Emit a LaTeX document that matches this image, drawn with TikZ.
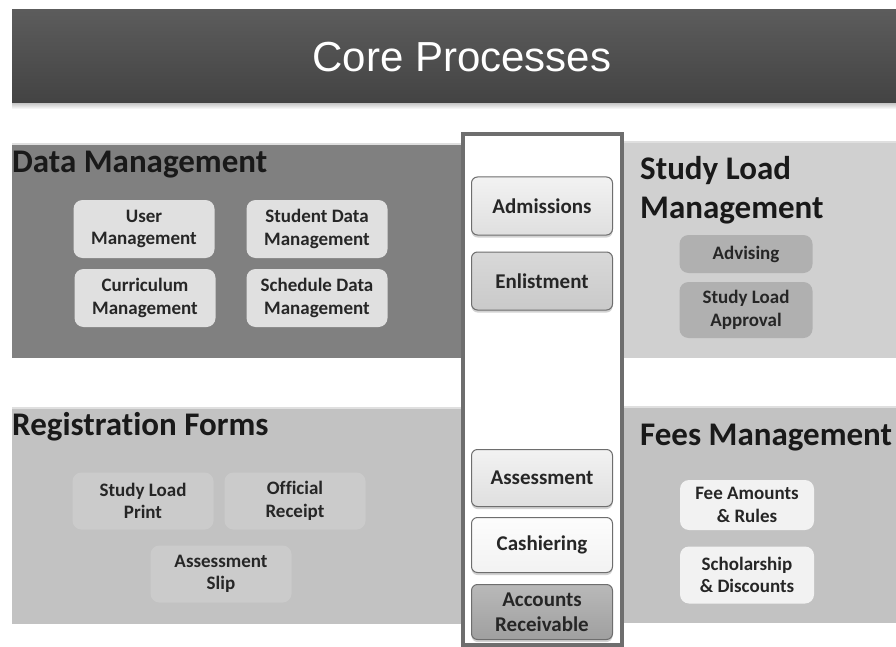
\documentclass[tikz,border=0pt]{standalone}
\usepackage{fontspec}
\setmainfont{Carlito}[Ligatures=NoCommon]
\newfontfamily\titlefont{Liberation Sans}
\usepackage{xcolor}
\usepackage{tikz}
\usetikzlibrary{shadows}

\definecolor{barTop}{HTML}{5C5C5C}
\definecolor{barBot}{HTML}{434343}
\definecolor{dmGray}{HTML}{808080}
\definecolor{slmGray}{HTML}{D0D0D0}
\definecolor{rfGray}{HTML}{C2C2C2}
\definecolor{dmBox}{HTML}{E0E0E0}
\definecolor{slmBox}{HTML}{B0B0B0}
\definecolor{rfBox}{HTML}{CBCBCB}
\definecolor{fmBox}{HTML}{F2F2F2}
\definecolor{colBorder}{HTML}{6E6E6E}

\begin{document}
\begin{tikzpicture}[x=1pt,y=-1pt,
  heading/.style={anchor=base west,inner sep=0pt,align=left,text=black!90,font=\fontsize{33}{38}\selectfont\bfseries},
  subbox/.style={rounded corners=9pt,minimum width=141pt,minimum height=58pt,inner sep=0pt,align=center,text=black!85,font=\fontsize{19}{22.5}\selectfont\bfseries},
  btn/.style={draw=colBorder,line width=1pt,rounded corners=6pt,minimum width=141pt,minimum height=57pt,inner sep=0pt,align=center,text=black!85,font=\fontsize{21}{25}\selectfont\bfseries,drop shadow={opacity=0.35,shadow xshift=0pt,shadow yshift=-2.5pt}}]

\useasboundingbox (0,0) rectangle (896,647);
\fill[white] (0,0) rectangle (896,647);

% title bar
\shade[top color=gray!45,bottom color=white] (12,103) rectangle (896,109);
\shade[top color=barTop,bottom color=barBot] (12,10) rectangle (896,103);
\node[font=\titlefont\fontsize{42}{46}\selectfont,text=white] (title) at (462,57) {Core Processes};

% panels
\fill[dmGray] (12,145) rectangle (463,358);
\fill[slmGray] (622,143) rectangle (896,358);
\fill[rfGray] (12,409) rectangle (463,624);
\fill[rfGray] (622,408) rectangle (896,623);
\draw[gray!25,line width=1.5pt] (12,144) -- (463,144) (622,142) -- (896,142)
  (12,408) -- (463,408) (622,407) -- (896,407);

% core process column
\draw[colBorder,line width=4pt,fill=white] (463,134) rectangle (622,645);

\node[heading] (dmhead) at (12,172) {Data Management};
\node[heading] (slmhead) at (640,218) {Study Load\\Management};
\node[heading] (rfhead) at (12,435) {Registration Forms};
\node[heading] (fmhead) at (640,445) {Fees Management};

% data management
\node[subbox,fill=dmBox] (usermgmt) at (144,229) {User\\Management};
\node[subbox,fill=dmBox] (studmgmt) at (317,229) {Student Data\\Management};
\node[subbox,fill=dmBox] (currmgmt) at (145,298) {Curriculum\\Management};
\node[subbox,fill=dmBox] (schedmgmt) at (317,298) {Schedule Data\\Management};

% study load management
\node[subbox,fill=slmBox,minimum width=133pt,minimum height=38pt] (advising) at (746,254) {Advising};
\node[subbox,fill=slmBox,minimum width=133pt,minimum height=56pt] (approval) at (746,310) {Study Load\\Approval};

% registration forms
\node[subbox,fill=rfBox,minimum height=57pt] (slprint) at (143,501) {Study Load\\Print};
\node[subbox,fill=rfBox,minimum height=57pt] (receipt) at (295,501) {Official\\Receipt};
\node[subbox,fill=rfBox,minimum height=57pt] (aslip) at (221,574) {Assessment\\Slip};

% fees management
\node[subbox,fill=fmBox,minimum width=134pt,minimum height=50pt] (feerules) at (747,505) {Fee Amounts\\\& Rules};
\node[subbox,fill=fmBox,minimum width=134pt,minimum height=57pt] (scholar) at (747,575) {Scholarship\\\& Discounts};

% core processes
\node[btn,top color=gray!10,bottom color=gray!25,minimum height=58pt] (admissions) at (542,206) {Admissions};
\node[btn,top color=gray!30,bottom color=gray!42,minimum height=58pt] (enlistment) at (542,281) {Enlistment};
\node[btn,top color=gray!10,bottom color=gray!25] (assessment) at (542,478) {Assessment};
\node[btn,top color=gray!2,bottom color=gray!10,minimum height=55pt] (cashiering) at (542,545) {Cashiering};
\node[btn,top color=gray!55,bottom color=gray!75,minimum height=55pt] (receivable) at (542,612) {Accounts\\Receivable};

\end{tikzpicture}
\end{document}
